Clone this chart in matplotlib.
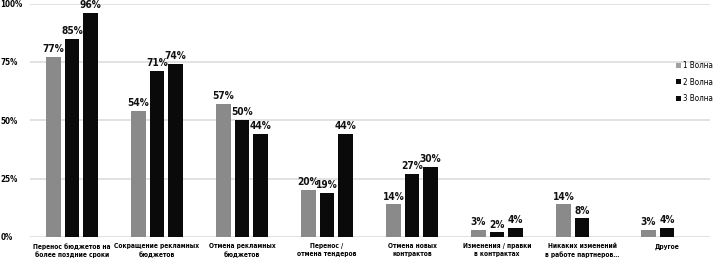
import matplotlib
matplotlib.use("Agg")
import matplotlib.pyplot as plt
import numpy as np
from matplotlib import font_manager
from matplotlib.font_manager import FontProperties

categories = ["Перенос бюджетов на\nболее поздние сроки",
              "Сокращение рекламных\nбюджетов",
              "Отмена рекламных\nбюджетов",
              "Перенос /\nотмена тендеров",
              "Отмена новых\nконтрактов",
              "Изменения / правки\nв контрактах",
              "Никаких изменений\nв работе партнеров…",
              "Другое"]
wave1 = [77, 54, 57, 20, 14, 3, 14, 3]
wave2 = [85, 71, 50, 19, 27, 2, 8, 4]
wave3 = [96, 74, 44, 44, 30, 4, None, None]
series_names = ["1 Волна", "2 Волна", "3 Волна"]
yticks = [0, 25, 50, 75, 100]

def cond(weight):
    cands = [f.fname for f in font_manager.fontManager.ttflist
             if f.name.startswith("DejaVu Sans") and "Condensed" in f.fname
             and ("Bold" in f.fname) == (weight == "bold")
             and "Oblique" not in f.fname and "Mono" not in f.fname]
    if cands:
        return cands[0]
    return font_manager.findfont(FontProperties(family="DejaVu Sans", weight=weight))

bold_path = cond("bold")
reg_path = cond("normal")

def fp(size, bold=True):
    return FontProperties(fname=bold_path if bold else reg_path, size=size)

fig = plt.figure(figsize=(7.17, 2.61), dpi=100)
ax = fig.add_axes([29.5/717, 24/261, 680/717, (237-3.5)/261])

colors = ["#8a8a8a", "#0a0a0a", "#0a0a0a"]
width = 0.17
step = 0.218
x = np.arange(len(categories))
for i, (vals, c, nm) in enumerate(zip([wave1, wave2, wave3], colors, series_names)):
    pos = x + (i - 1) * step
    h = [np.nan if v is None else v for v in vals]
    ax.bar(pos, h, width=width, color=c, label=nm, zorder=3)
    for p, v in zip(pos, vals):
        if v is None:
            continue
        ax.text(p, v + 1.2, f"{v}%", ha="center", va="bottom",
                fontproperties=fp(7.3), color="#111111", clip_on=False)

ax.set_xlim(-0.5, len(categories) - 0.5)
ax.set_ylim(0, 100)
ax.set_yticks(yticks)
ax.set_yticklabels([f"{t}%" for t in yticks], fontproperties=fp(5.8))
ax.set_xticks(x)
ax.set_xticklabels(categories, fontproperties=fp(4.8), linespacing=1.3)
ax.tick_params(axis="both", length=0)
ax.tick_params(axis="x", pad=4.5)
ax.tick_params(axis="y", pad=20.8)
for lab in ax.get_yticklabels():
    lab.set_horizontalalignment("left")
ax.grid(axis="y", color="#dddddd", linewidth=1.2, zorder=0)
for s in ax.spines.values():
    s.set_visible(False)

leg = ax.legend(loc="upper right", bbox_to_anchor=(1.016, 0.785), frameon=False,
                prop=fp(5.8, bold=False), handlelength=0.55, handleheight=0.55,
                handletextpad=0.3, labelspacing=0.95)
leg.get_patches()[0].set_facecolor("#a0a0a0")

fig.savefig("out.png", dpi=100, facecolor="white")
